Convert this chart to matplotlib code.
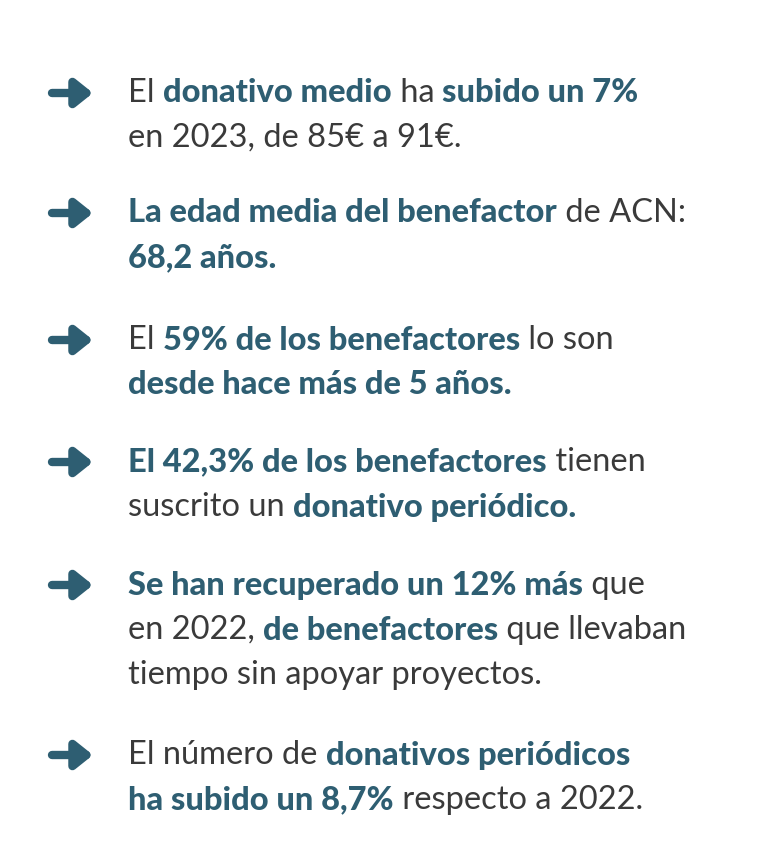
import matplotlib.pyplot as plt

# Each item: list of lines; each line: list of (text, bold)
items = [
    [[("El ", False), ("donativo medio", True), (" ha ", False), ("subido un 7%", True)],
     [("en 2023, de 85€ a 91€.", False)]],
    [[("La edad media del benefactor", True), (" de ACN:", False)],
     [("68,2 años.", True)]],
    [[("El ", False), ("59% de los benefactores", True), (" lo son", False)],
     [("desde hace más de 5 años.", True)]],
    [[("El 42,3% de los benefactores", True), (" tienen", False)],
     [("suscrito un ", False), ("donativo periódico.", True)]],
    [[("Se han recuperado un 12% más", True), (" que", False)],
     [("en 2022, ", False), ("de benefactores", True), (" que llevaban", False)],
     [("tiempo sin apoyar proyectos.", False)]],
    [[("El número de ", False), ("donativos periódicos", True)],
     [("ha subido un 8,7%", True), (" respecto a 2022.", False)]],
]
item_tops = [93, 213, 340, 462, 585, 755]

teal = "#2e5e72"
gray = "#3a3a3a"
line_gap = 45

fig = plt.figure(figsize=(7.66, 8.48), dpi=100)
ax = fig.add_axes([0, 0, 1, 1])
ax.set_xlim(0, 766)
ax.set_ylim(848, 0)
ax.axis("off")
fig.canvas.draw()
renderer = fig.canvas.get_renderer()

for top, lines in zip(item_tops, items):
    ax.annotate("", xy=(93, top), xytext=(52, top),
                arrowprops=dict(arrowstyle="-|>,head_length=1.0,head_width=0.8",
                                lw=6, color=teal, shrinkA=0, shrinkB=0))
    for i, segs in enumerate(lines):
        y = top + i * line_gap
        x = 128
        for txt, bold in segs:
            t = ax.text(x, y, txt, fontsize=23.5, family="Lato",
                        fontweight="black" if bold else "normal",
                        color=teal if bold else gray, va="center", ha="left")
            bb = t.get_window_extent(renderer)
            x += bb.width * 766 / fig.bbox.width

fig.savefig("out.png", dpi=100)
